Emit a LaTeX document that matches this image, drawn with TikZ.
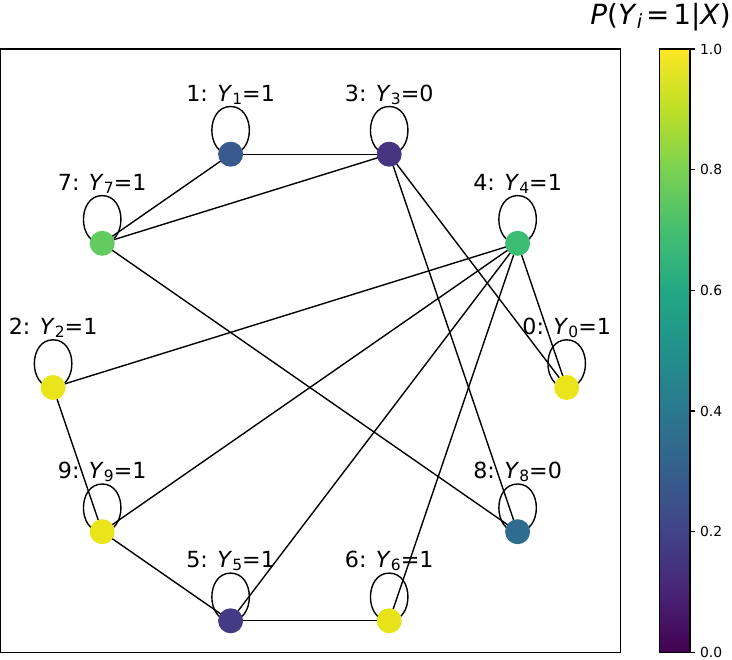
\documentclass[tikz,border=0pt]{standalone}
\usepackage{fontspec}
\setmainfont{DejaVu Sans}
\usetikzlibrary{calc,backgrounds}
\definecolor{v0}{HTML}{440154}
\definecolor{v1}{HTML}{482475}
\definecolor{v2}{HTML}{414487}
\definecolor{v3}{HTML}{355F8D}
\definecolor{v4}{HTML}{2A788E}
\definecolor{v5}{HTML}{21918C}
\definecolor{v6}{HTML}{22A884}
\definecolor{v7}{HTML}{44BF70}
\definecolor{v8}{HTML}{7AD151}
\definecolor{v9}{HTML}{BDDF26}
\definecolor{v10}{HTML}{FDE725}
\definecolor{c0}{HTML}{EAE51A}
\definecolor{c1}{HTML}{385A8C}
\definecolor{c2}{HTML}{EAE51A}
\definecolor{c3}{HTML}{46347F}
\definecolor{c4}{HTML}{3DBC74}
\definecolor{c5}{HTML}{443B84}
\definecolor{c6}{HTML}{E8E419}
\definecolor{c7}{HTML}{63CB5F}
\definecolor{c8}{HTML}{2E6D8E}
\definecolor{c9}{HTML}{EAE51A}
\pgfdeclareverticalshading{viridis}{100bp}{color(0bp)=(v0); color(25bp)=(v0); color(30bp)=(v1); color(35bp)=(v2); color(40bp)=(v3); color(45bp)=(v4); color(50bp)=(v5); color(55bp)=(v6); color(60bp)=(v7); color(65bp)=(v8); color(70bp)=(v9); color(75bp)=(v10); color(100bp)=(v10)}
\newcommand\sbs[1]{\raisebox{-3pt}{\fontsize{15.5}{15.5}\selectfont #1}}
\newcommand\loopat[1]{\draw[edge] ($(#1.center)+(0,-47.7)$) .. controls +(25,0) and +(25,0) .. (#1.center) .. controls +(-25,0) and +(-25,0) .. ($(#1.center)+(0,-47.7)$);}
\begin{document}
\begin{tikzpicture}[x=1pt,y=-1pt,
  lab/.style={anchor=base, inner sep=0pt, font=\fontsize{22.2}{22.2}\selectfont},
  gnode/.style={circle, inner sep=0pt, minimum size=25pt, draw=none},
  edge/.style={line width=1.39pt, black},
  frame/.style={line width=1.11pt, black},
  ticklab/.style={anchor=west, inner sep=0pt, font=\fontsize{13.9}{13.9}\selectfont}]
\useasboundingbox (0,0) rectangle (732,660);
% nodes
\node[gnode, fill=c0] (n0) at (566.7,387.5) {};
\node[gnode, fill=c4] (n4) at (517.6,243.3) {};
\node[gnode, fill=c3] (n3) at (389.2,154.2) {};
\node[gnode, fill=c1] (n1) at (230.6,154.2) {};
\node[gnode, fill=c7] (n7) at (102.2,243.3) {};
\node[gnode, fill=c2] (n2) at (53.1,387.5) {};
\node[gnode, fill=c9] (n9) at (102.2,531.7) {};
\node[gnode, fill=c5] (n5) at (230.6,620.8) {};
\node[gnode, fill=c6] (n6) at (389.2,620.8) {};
\node[gnode, fill=c8] (n8) at (517.6,531.7) {};
% labels
\node[lab] (l0) at (566.7,334.5) {0: \textit{Y}\sbs{0}=1};
\node[lab] (l4) at (517.6,190.3) {4: \textit{Y}\sbs{4}=1};
\node[lab] (l3) at (389.2,101.2) {3: \textit{Y}\sbs{3}=0};
\node[lab] (l1) at (230.6,101.2) {1: \textit{Y}\sbs{1}=1};
\node[lab] (l7) at (102.2,190.3) {7: \textit{Y}\sbs{7}=1};
\node[lab] (l2) at (53.1,334.5) {2: \textit{Y}\sbs{2}=1};
\node[lab] (l9) at (102.2,478.7) {9: \textit{Y}\sbs{9}=1};
\node[lab] (l5) at (230.6,567.8) {5: \textit{Y}\sbs{5}=1};
\node[lab] (l6) at (389.2,567.8) {6: \textit{Y}\sbs{6}=1};
\node[lab] (l8) at (517.6,478.7) {8: \textit{Y}\sbs{8}=0};
\begin{pgfonlayer}{background}
\foreach \a/\b in {n1/n3, n1/n7, n3/n7, n3/n0, n3/n8, n7/n8, n4/n2, n4/n9, n4/n5, n4/n6, n4/n0, n2/n9, n9/n5, n5/n6}{
  \draw[edge] (\a.center) -- (\b.center);
}
\foreach \n in {n0,n1,n2,n3,n4,n5,n6,n7,n8,n9}{
  \loopat{\n}
}
\end{pgfonlayer}
% axes frame
\draw[frame] (0.6,49) rectangle (620.6,652.3);
% colorbar
\shade[shading=viridis] (659.5,49) rectangle (690,652.3);
\draw[frame] (659.5,49) rectangle (690,652.3);
\foreach \v/\y in {0.0/652.3, 0.2/531.64, 0.4/410.98, 0.6/290.32, 0.8/169.66, 1.0/49}{
  \draw[frame] (690,\y) -- (694.9,\y);
  \node[ticklab] at (699.8,\y) {\v};
}
% title
\node[anchor=base east, inner sep=0pt, font=\fontsize{27.8}{27.8}\selectfont] (title) at (731,25) {\textit{P}(\textit{Y}\raisebox{-4pt}{\fontsize{19.5}{19.5}\selectfont\textit{i}}\hspace{0.14em}=\hspace{0.14em}1|\textit{X})};
\end{tikzpicture}
\end{document}
